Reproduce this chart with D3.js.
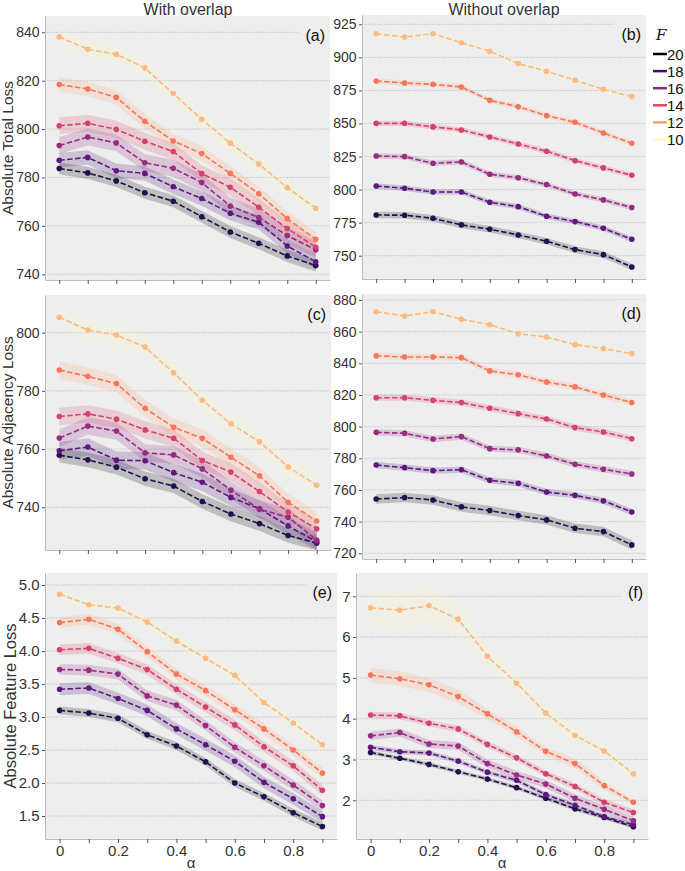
<!DOCTYPE html>
<html>
<head>
<meta charset="utf-8">
<script src="https://cdn.jsdelivr.net/npm/d3@7"></script>
<style>
  body { margin: 0; background: #fff; }
  svg { display: block; font-family: "Liberation Sans", Arial, sans-serif; }
  .tick text { fill: #333; }
</style>
</head>
<body>
<script>
// alpha values on x, number of features F per line (dark -> light)
const alphas = [0, 0.1, 0.2, 0.3, 0.4, 0.5, 0.6, 0.7, 0.8, 0.9];
const fValues = [20, 18, 16, 14, 12, 10];

// rows follow fValues order
const totalOverlap = [
  [783.7, 781.9, 778.6, 773.7, 770.2, 763.8, 757.5, 752.8, 747.6, 743.6],
  [787.1, 788.3, 782.8, 781.7, 776.2, 771.3, 765.2, 761.5, 751.7, 745.2],
  [793.2, 796.7, 794.3, 786.1, 783.8, 777.9, 768.2, 763.5, 756.0, 750.1],
  [801.4, 802.4, 799.9, 795.0, 790.7, 781.6, 776.0, 767.7, 758.9, 751.2],
  [818.4, 816.6, 813.1, 803.2, 795.1, 789.9, 781.7, 773.3, 763.0, 754.5],
  [838.1, 833.0, 830.9, 825.3, 814.7, 804.0, 794.2, 785.6, 775.8, 767.3]
];
const totalNoOverlap = [
  [780.8, 780.6, 778.3, 773.3, 770.0, 765.7, 760.9, 754.6, 750.8, 741.5],
  [802.7, 801.0, 798.2, 798.2, 790.4, 787.1, 779.8, 775.8, 770.7, 762.4],
  [825.4, 824.9, 819.9, 820.9, 811.6, 809.0, 803.8, 796.7, 792.2, 786.4],
  [850.1, 850.1, 847.4, 845.1, 839.8, 834.5, 829.0, 821.9, 816.4, 810.8],
  [882.1, 880.6, 879.6, 877.6, 867.5, 862.7, 855.9, 850.9, 842.8, 835.0],
  [917.9, 915.4, 917.9, 911.1, 904.6, 895.3, 889.5, 882.7, 875.8, 870.3]
];
const adjOverlap = [
  [757.9, 756.3, 753.8, 749.8, 747.3, 742.0, 737.7, 734.4, 730.3, 727.7],
  [759.4, 760.7, 756.2, 756.0, 751.9, 748.6, 743.4, 739.5, 733.6, 728.2],
  [763.8, 767.9, 766.2, 758.7, 758.0, 753.2, 745.9, 739.3, 736.6, 728.7],
  [771.2, 772.1, 770.3, 766.6, 763.7, 756.1, 752.1, 745.4, 738.4, 732.6],
  [787.2, 785.0, 782.5, 774.0, 767.5, 763.7, 757.2, 750.8, 741.7, 735.3],
  [805.3, 800.9, 799.2, 795.1, 786.2, 776.8, 768.7, 762.5, 753.9, 747.6]
];
const adjNoOverlap = [
  [754.3, 755.2, 753.7, 749.3, 747.0, 743.8, 741.1, 735.8, 733.7, 725.3],
  [775.8, 774.1, 772.2, 772.8, 766.1, 764.2, 758.7, 756.6, 753.1, 746.1],
  [796.4, 795.8, 792.2, 793.7, 786.1, 785.3, 781.5, 776.2, 773.1, 770.1],
  [818.3, 818.3, 816.6, 815.2, 811.6, 808.2, 804.8, 799.4, 796.6, 792.4],
  [844.8, 844.0, 844.0, 843.6, 835.2, 832.8, 828.2, 825.1, 820.0, 815.2],
  [872.6, 869.9, 872.6, 867.8, 864.4, 858.7, 856.6, 851.8, 849.3, 846.1]
];
const featOverlap = [
  [3.10, 3.06, 2.98, 2.73, 2.56, 2.32, 2.00, 1.79, 1.55, 1.34],
  [3.42, 3.44, 3.28, 3.10, 2.82, 2.58, 2.33, 2.01, 1.76, 1.49],
  [3.72, 3.71, 3.65, 3.32, 3.18, 2.87, 2.54, 2.26, 1.97, 1.66],
  [4.02, 4.04, 3.89, 3.72, 3.42, 3.15, 2.88, 2.55, 2.26, 1.89],
  [4.43, 4.48, 4.33, 3.99, 3.65, 3.40, 3.11, 2.82, 2.50, 2.15],
  [4.86, 4.70, 4.65, 4.44, 4.15, 3.89, 3.63, 3.22, 2.91, 2.58]
];
const featNoOverlap = [
  [3.17, 3.03, 2.88, 2.70, 2.52, 2.31, 2.05, 1.79, 1.58, 1.35],
  [3.30, 3.19, 3.16, 2.96, 2.69, 2.49, 2.14, 1.88, 1.60, 1.40],
  [3.58, 3.66, 3.38, 3.33, 2.90, 2.62, 2.40, 2.05, 1.78, 1.50],
  [4.09, 4.07, 3.89, 3.75, 3.37, 3.04, 2.65, 2.34, 1.95, 1.70],
  [5.07, 4.98, 4.83, 4.54, 4.12, 3.68, 3.20, 2.90, 2.36, 1.95],
  [6.72, 6.66, 6.77, 6.44, 5.53, 4.87, 4.14, 3.59, 3.21, 2.65]
];

// half width of the shaded band per F (a single number or one per alpha)
const totalOverlapSpread = [2.5, 3, 3.5, 3.5, 3, 3.5];
const totalNoOverlapSpread = [2.5, 2, 2, 2, 2, 1.5];
const adjOverlapSpread = [2.5, 3, 3, 3, 3, 3.5];
const adjNoOverlapSpread = [3, 2, 2, 2, 2, 1];
const featOverlapSpread = [0.06, 0.09, 0.08, 0.08, 0.08, 0.08];
const featNoOverlapSpread = [0.05, 0.06, 0.1, 0.08,
  [0.18, 0.18, 0.17, 0.17, 0.12, 0.12, 0.1, 0.12, 0.1, 0.06],
  [0.52, 0.4, 0.45, 0.43, 0.25, 0.2, 0.2, 0.2, 0.12, 0.08]];

const lineColors = ["#221150", "#5f187f", "#982d80", "#d3436e", "#f8765c", "#febb81"];
const bandColors = ["#000004", "#3b0f70", "#8c2981", "#de4968", "#fe9f6d", "#fcfdbf"];

const W = 685, H = 871;
const svg = d3.select("body").append("svg").attr("width", W).attr("height", H);

// frame of every panel; yAnchor values sit at pAnchor pixels
const panels = [
  { tag: "(a)", values: totalOverlap, spread: totalOverlapSpread, x0: 45, x1: 330, y0: 16, y1: 280,
    yAnchor: [740, 840], pAnchor: [274.3, 32.3], yTicks: [740, 760, 780, 800, 820, 840], fmt: d3.format("d"),
    ylabel: "Absolute Total Loss", labX: 13, xLabels: false, fs: 14 },
  { tag: "(b)", values: totalNoOverlap, spread: totalNoOverlapSpread, x0: 362, x1: 646, y0: 15, y1: 279,
    yAnchor: [750, 925], pAnchor: [255.7, 24.3], yTicks: [750, 775, 800, 825, 850, 875, 900, 925], fmt: d3.format("d"),
    xLabels: false, fs: 14 },
  { tag: "(c)", values: adjOverlap, spread: adjOverlapSpread, x0: 45, x1: 331, y0: 295, y1: 550,
    yAnchor: [740, 800], pAnchor: [507.3, 332.7], yTicks: [740, 760, 780, 800], fmt: d3.format("d"),
    ylabel: "Absolute Adjacency Loss", labX: 13, xLabels: false, fs: 14 },
  { tag: "(d)", values: adjNoOverlap, spread: adjNoOverlapSpread, x0: 362, x1: 646, y0: 294, y1: 559,
    yAnchor: [720, 880], pAnchor: [553.3, 300], yTicks: [720, 740, 760, 780, 800, 820, 840, 860, 880], fmt: d3.format("d"),
    xLabels: false, fs: 14 },
  { tag: "(e)", values: featOverlap, spread: featOverlapSpread, x0: 45, x1: 337, y0: 573, y1: 839,
    yAnchor: [1.5, 5.0], pAnchor: [816, 585], yTicks: [1.5, 2, 2.5, 3, 3.5, 4, 4.5, 5], fmt: d3.format(".1f"),
    ylabel: "Absolute Feature Loss", labX: 16, xLabels: true, fs: 15 },
  { tag: "(f)", values: featNoOverlap, spread: featNoOverlapSpread, x0: 356, x1: 648, y0: 573, y1: 839,
    yAnchor: [2, 7], pAnchor: [800.3, 596.3], yTicks: [2, 3, 4, 5, 6, 7], fmt: d3.format("d"),
    xLabels: true, fs: 15 }
];

panels.forEach(p => {
  var x = d3.scaleLinear().domain([-0.05, 0.95]).range([p.x0, p.x1]);
  var y = d3.scaleLinear().domain(p.yAnchor).range(p.pAnchor);
  y.domain([y.invert(p.y1), y.invert(p.y0)]).range([p.y1, p.y0]);

  var g = svg.append("g");
  g.append("rect").attr("x", p.x0).attr("y", p.y0)
    .attr("width", p.x1 - p.x0).attr("height", p.y1 - p.y0).attr("fill", "#eeeeee");

  // horizontal grid
  g.selectAll(".grid").data(p.yTicks).enter().append("line")
    .attr("x1", p.x0).attr("x2", p.x1)
    .attr("y1", d => y(d)).attr("y2", d => y(d))
    .attr("stroke", "#b2b2b2").attr("stroke-width", 0.8).attr("stroke-dasharray", "1,1.2");

  // bands
  p.values.forEach((row, i) => {
    var s = p.spread[i];
    var sp = j => Array.isArray(s) ? s[j] : s;
    var area = d3.area()
      .x((d, j) => x(alphas[j]))
      .y0((d, j) => y(d - sp(j)))
      .y1((d, j) => y(d + sp(j)));
    g.append("path").attr("d", area(row))
      .attr("fill", bandColors[i]).attr("fill-opacity", 0.2);
  });

  // dashed mean lines with markers
  p.values.forEach((row, i) => {
    var line = d3.line().x((d, j) => x(alphas[j])).y(d => y(d));
    g.append("path").attr("d", line(row)).attr("fill", "none")
      .attr("stroke", lineColors[i]).attr("stroke-width", 1.6)
      .attr("stroke-dasharray", "5.5,2.4");
    g.selectAll(".pt" + i).data(row).enter().append("circle")
      .attr("cx", (d, j) => x(alphas[j])).attr("cy", d => y(d))
      .attr("r", 2.8).attr("fill", lineColors[i]);
  });

  // axes
  var yAxis = d3.axisLeft(y).tickValues(p.yTicks).tickFormat(p.fmt).tickSize(3).tickSizeOuter(0).tickPadding(2.5);
  var ga = g.append("g").attr("transform", "translate(" + p.x0 + ",0)").call(yAxis);
  var xAxis = d3.axisBottom(x).tickValues(alphas).tickSize(4).tickSizeOuter(0).tickPadding(2)
    .tickFormat((d, j) => p.xLabels && j % 2 == 0 ? (d == 0 ? "0" : d3.format(".1f")(d)) : "");
  var gb = g.append("g").attr("transform", "translate(0," + p.y1 + ")").call(xAxis);
  [ga, gb].forEach(a => {
    a.select(".domain").attr("stroke", "#bcbcbc");
    a.selectAll(".tick line").attr("stroke", "#555");
    a.selectAll(".tick text").attr("font-family", "Liberation Sans, Arial, sans-serif").attr("font-size", p.fs);
  });

  // panel tag with a background box over the grid
  var tag = g.append("text").text(p.tag)
    .attr("x", p.x1 - 5).attr("y", p.y0 + 25)
    .attr("text-anchor", "end").attr("font-size", 16).attr("fill", "#111");
  var bb = tag.node().getBBox();
  g.insert("rect", () => tag.node())
    .attr("x", bb.x - 7).attr("y", p.y0 + 6)
    .attr("width", p.x1 - bb.x + 7).attr("height", 28)
    .attr("fill", "#eeeeee");

  if (p.ylabel) {
    svg.append("text").text(p.ylabel)
      .attr("transform", "translate(" + p.labX + "," + ((p.y0 + p.y1) / 2) + ") rotate(-90)")
      .attr("text-anchor", "middle").attr("font-size", p.fs + 1.5).attr("fill", "#333");
  }
  if (p.xLabels) {
    svg.append("text").text("α")
      .attr("x", (p.x0 + p.x1) / 2).attr("y", 868)
      .attr("text-anchor", "middle").attr("font-size", 15).attr("fill", "#333");
  }
});

// column titles
svg.append("text").text("With overlap").attr("x", 188).attr("y", 14.5)
  .attr("text-anchor", "middle").attr("font-size", 16).attr("fill", "#333");
svg.append("text").text("Without overlap").attr("x", 504).attr("y", 14.5)
  .attr("text-anchor", "middle").attr("font-size", 16).attr("fill", "#333");

// legend
var leg = svg.append("g");
leg.append("text").text("F").attr("x", 656).attr("y", 40)
  .attr("font-family", "DejaVu Serif, serif").attr("font-style", "italic")
  .attr("font-size", 15).attr("fill", "#111");
var legY = d3.scalePoint().domain(fValues).range([54, 139.5]);
fValues.forEach((f, i) => {
  leg.append("line").attr("x1", 653).attr("x2", 667)
    .attr("y1", legY(f)).attr("y2", legY(f))
    .attr("stroke", bandColors[i]).attr("stroke-width", 2.5);
  leg.append("text").text(f).attr("x", 667).attr("y", legY(f) + 5.5)
    .attr("font-size", 15).attr("fill", "#111");
});
</script>
</body>
</html>
